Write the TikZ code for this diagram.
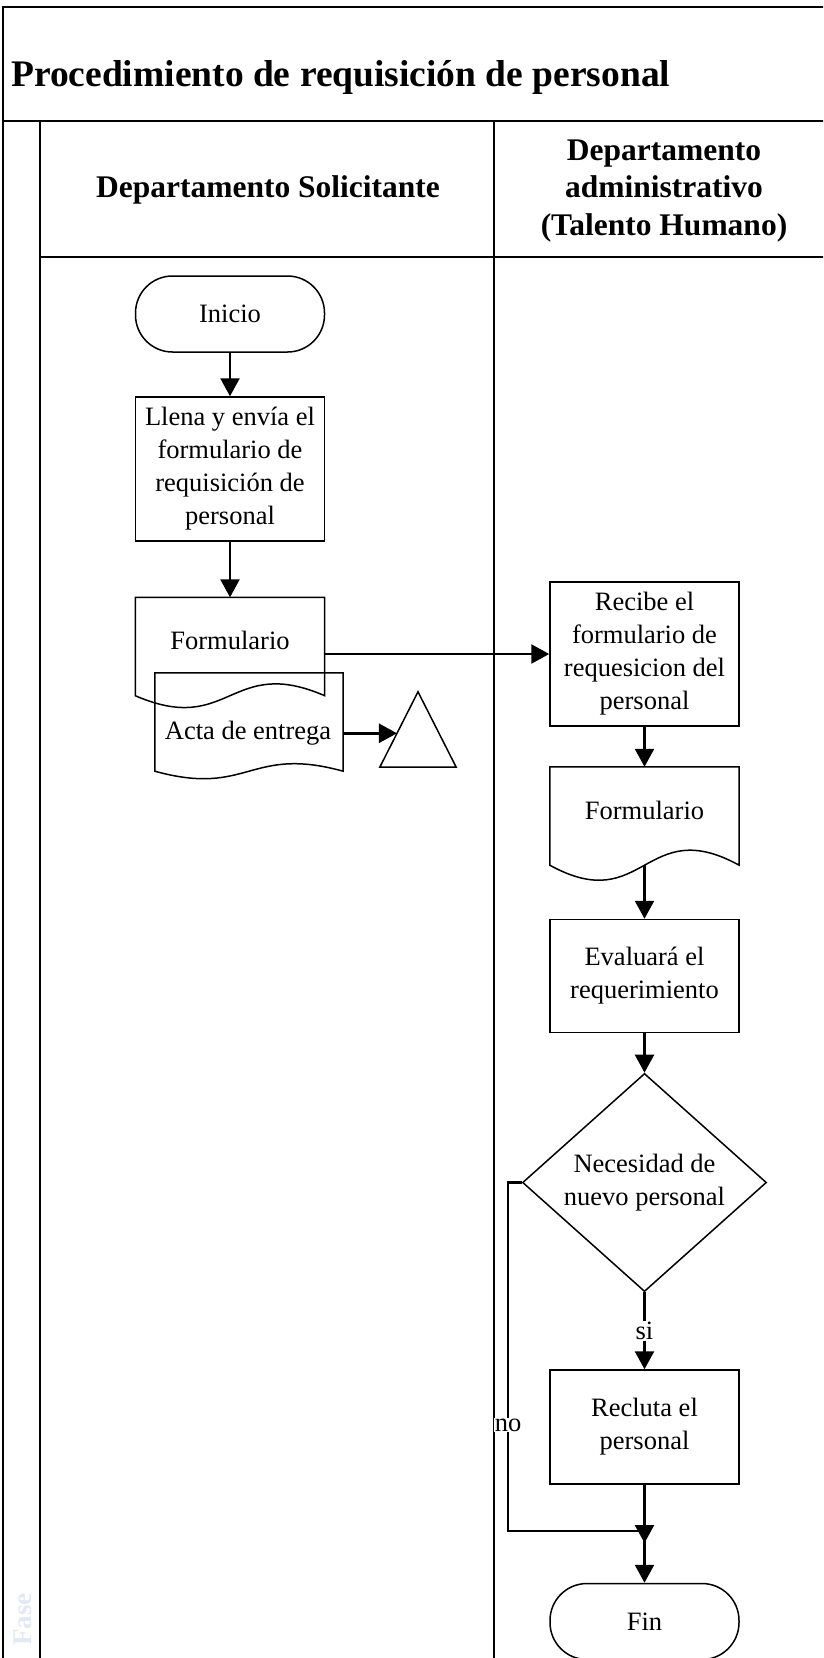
\documentclass[tikz,border=0pt]{standalone}
\usepackage{fontspec}
\setmainfont{Liberation Serif}
\usetikzlibrary{arrows.meta,shapes.geometric,calc}

\newcommand\flowtext{\fontsize{26.5}{33}\selectfont}
\newcommand\lanefont{\bfseries\fontsize{31.5}{37.5}\selectfont}
\newcommand\diagtitlefont{\bfseries\fontsize{37.5}{40}\selectfont}

% outline of a document symbol around an (empty) node: wavy bottom edge
\newcommand\drawdoc[2]{%
  \draw[shapeline] (#1.south west) -- (#1.north west) -- (#1.north east) -- (#1.south east)
    .. controls ($(#1.south)+(0,-#2)$) and ($(#1.south)+(0,#2)$) .. cycle;}

\begin{document}
\begin{tikzpicture}[x=1pt,y=-1pt,
  frame/.style={line width=2.4pt},
  lane/.style={line width=2pt},
  shapeline/.style={line width=1.5pt},
  stepbox/.style={draw, shapeline, minimum width=189pt, inner sep=2pt, align=center, font=\flowtext},
  term/.style={stepbox, rounded corners=37pt, minimum height=76pt},
  decision/.style={draw, shapeline, diamond, minimum width=244pt, minimum height=211pt, inner sep=0pt, align=center, font=\flowtext},
  docbox/.style={minimum width=189pt, minimum height=98pt, inner sep=0pt},
  doctext/.style={font=\flowtext, inner sep=1pt},
  conn/.style={line width=2.5pt, -{Triangle[width=19pt,length=18pt]}},
  tag/.style={fill=white, inner sep=1pt, font=\flowtext}
]
\useasboundingbox (0,0) rectangle (823,1658);
\clip (0,0) rectangle (823,1658);

% pool frame and swimlanes
\draw[frame] (3,1670) -- (3,7) -- (830,7);
\draw[frame] (3,121) -- (830,121);
\draw[lane] (40,121) -- (40,1670);
\draw[lane] (40,257) -- (830,257);
\draw[lane] (494,121) -- (494,1670);

\node[anchor=base west, font=\diagtitlefont, inner sep=0pt] (title) at (11,86)
  {Procedimiento de requisición de personal};
\node[font=\lanefont, align=center] (hsol) at (268,190) {Departamento Solicitante};
\node[font=\lanefont, align=center] (hadm) at (664,191)
  {Departamento\\administrativo\\(Talento Humano)};
\node[rotate=90, anchor=east, text={rgb,255:red,226;green,233;blue,244},
  font=\bfseries\fontsize{27}{27}\selectfont, inner sep=0pt] (fase) at (23,1593) {Fase};

% requesting department
\node[term] (ini) at (230,314) {Inicio};
\node[stepbox, minimum height=144pt] (llena) at (230,469)
  {Llena y envía el\\formulario de\\requisición de\\personal};
\node[docbox] (f1) at (230,646.5) {};
\drawdoc{f1}{41}
\node[doctext] (f1t) at (230,640) {Formulario};
\node[docbox, minimum width=188pt] (f2) at (249,722) {};
\drawdoc{f2}{26}
\node[doctext] (f2t) at (248,733) {Acta de entrega};
\node[minimum width=76pt, minimum height=75pt, inner sep=0pt] (tri) at (418,729.5) {};
\draw[shapeline] (tri.south west) -- (tri.north) -- (tri.south east) -- cycle;
\coordinate (triin) at ($(tri.south west)!0.45!(tri.north)$);

% administrative department
\node[stepbox, minimum height=144pt] (rec) at (644.5,654)
  {Recibe el\\formulario de\\requesicion del\\personal};
\node[docbox] (f3) at (644.5,816) {};
\drawdoc{f3}{52}
\node[doctext] (f3t) at (644.5,810) {Formulario};
\node[stepbox, minimum height=113pt] (eva) at (644.5,976) {Evaluará el\\requerimiento};
\node[decision] (dec) at (644.5,1182.5) {Necesidad de\\nuevo personal};
\node[stepbox, minimum height=114pt] (rcl) at (644.5,1427) {Recluta el\\personal};
\node[term] (fin) at (644.5,1621.5) {Fin};

% connectors
\draw[conn] (ini.south) -- (llena.north);
\draw[conn] (llena.south) -- (f1.north);
\draw[conn] (rec.west -| f1.east) -- (rec.west);
\draw[conn] (triin -| f2.east) -- (triin);
\draw[conn] (rec.south) -- (f3.north);
\draw[conn] (f3.south) -- (eva.north);
\draw[conn] (eva.south) -- (dec.north);
\draw[conn] (dec.south) -- node[tag] (si) {si} (rcl.north);
\coordinate (join) at (644.5,1543);
\coordinate (nobend) at (508,1531);
\draw[conn] (rcl.south) -- (join);
\draw[conn] (dec.west) -| (nobend) -- (nobend -| fin.north) -- (fin.north);
\node[tag] (no) at (508,1425) {no};
\end{tikzpicture}
\end{document}
